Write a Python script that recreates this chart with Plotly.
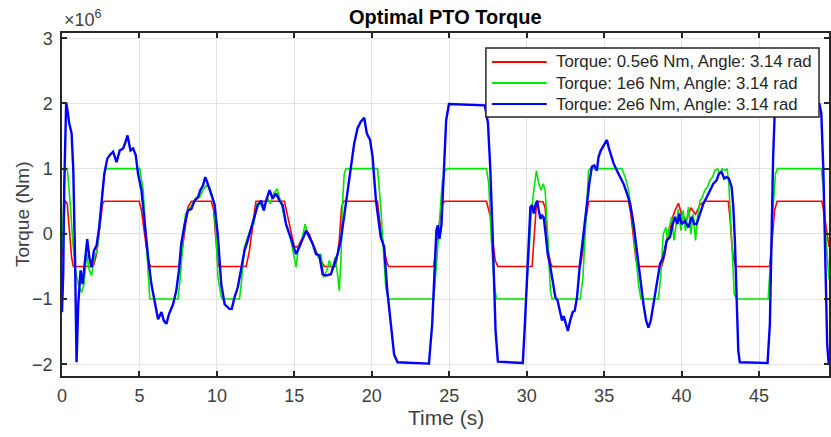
import plotly.graph_objects as go

# Simulated PTO torque (units of 1e6 Nm) for three torque limits
t_red = [0, 0.1, 0.19, 0.34, 0.47, 0.62, 0.73, 2.02, 2.23, 2.45, 2.62, 2.73, 4.98, 5.13, 5.34, 5.56, 5.71,
         7.55, 7.7, 7.92, 8.13, 8.35, 9.64, 9.79, 9.92, 10.06, 10.15, 11.89, 12.1, 12.31, 12.52, 14.36,
         14.57, 14.79, 15.0, 15.22, 15.43, 15.76, 15.97, 16.18, 16.5, 16.72, 16.93, 17.68, 17.9, 18.05,
         18.18, 20.37, 20.58, 20.8, 21.0, 21.1, 24.0, 24.21, 24.37, 24.54, 24.71, 27.4, 27.66, 27.8,
         27.97, 28.14, 30.35, 30.46, 30.63, 30.78, 31.06, 31.19, 31.32, 31.42, 31.57, 31.65, 33.46,
         33.63, 33.78, 33.99, 34.1, 36.57, 36.72, 36.89, 37.06, 37.22, 38.72, 38.93, 39.08, 39.25,
         39.43, 39.58, 39.73, 39.8, 40.0, 40.3, 40.6, 40.9, 41.2, 41.5, 43.01, 43.12, 43.23, 43.34,
         43.49, 45.68, 45.85, 46.0, 46.17, 49.06, 49.24, 49.41, 49.52]
y_red = [-0.36, 0.1, 0.51, 0.46, 0.05, -0.36, -0.5, -0.5, -0.31, 0.1, 0.46, 0.5, 0.5, 0.36, -0.05, -0.41, -0.5,
         -0.5, -0.36, 0.05, 0.41, 0.5, 0.5, 0.36, -0.1, -0.45, -0.5, -0.5, -0.26, 0.15, 0.5, 0.5,
         0.26, 0.05, -0.2, -0.2, -0.1, 0.05, 0.0, -0.15, -0.31, -0.41, -0.5, -0.5, -0.1, 0.41,
         0.5, 0.5, 0.05, -0.26, -0.46, -0.5, -0.5, -0.1, 0.15, 0.46, 0.5, 0.5, 0.26, -0.1,
         -0.41, -0.5, -0.5, -0.05, 0.46, 0.5, 0.49, 0.4, 0.05, -0.31, -0.47, -0.5, -0.5,
         -0.26, 0.15, 0.49, 0.5, 0.5, 0.31, -0.05, -0.41, -0.5, -0.5, -0.31, -0.05, 0.05,
         0.26, 0.36, 0.44, 0.47, 0.3, 0.2, 0.4, 0.3, 0.45, 0.5, 0.5, 0.26, -0.1, -0.36,
         -0.5, -0.5, -0.1, 0.36, 0.5, 0.5, 0.26, -0.05, -0.2]

t_green = [0, 0.1, 0.19, 0.34, 0.52, 0.69, 0.84, 1.05, 1.27, 1.42, 1.59, 1.76, 1.91, 2.08, 2.27, 2.45, 2.62,
           2.77, 2.88, 5.02, 5.24, 5.41, 5.56, 5.67, 7.49, 7.64, 7.81, 7.98, 8.2, 8.41, 8.67, 8.88, 9.1,
           9.31, 9.53, 9.79, 9.96, 10.07, 10.28, 10.35, 11.46, 11.57, 11.78, 11.99, 12.21, 12.38, 12.59,
           12.8, 13.03, 13.24, 13.46, 13.67, 13.89, 14.1, 14.36, 14.57, 14.74, 14.96, 15.11, 15.26,
           15.48, 15.69, 15.86, 16.08, 16.29, 16.55, 16.72, 16.89, 17.1, 17.25, 17.47, 17.62, 17.79,
           17.9, 18.0, 18.1, 18.22, 18.33, 20.37, 20.58, 20.73, 20.9, 21.08, 24.0, 24.21, 24.37, 24.54,
           24.71, 24.86, 27.4, 27.55, 27.72, 27.9, 28.05, 29.95, 30.13, 30.28, 30.46, 30.63, 30.78,
           30.93, 31.06, 31.19, 31.32, 31.42, 31.53, 31.64, 33.46, 33.63, 33.78, 33.89, 33.99, 34.1,
           36.14, 36.36, 36.57, 36.79, 37.0, 37.22, 37.37, 38.5, 38.65, 38.82, 38.99, 39.1, 39.2,
           39.36, 39.51, 39.64, 39.79, 39.96, 40.1, 40.25, 40.44, 40.6, 40.75, 40.9, 41.03, 41.19,
           41.33, 41.5, 41.68, 41.83, 42.0, 42.15, 42.32, 42.47, 42.62, 42.79, 42.94, 43.05, 43.18,
           43.29, 43.4, 43.55, 45.59, 45.76, 45.91, 46.06, 46.19, 49.02, 49.17, 49.3, 49.45, 49.52]
y_green = [-0.26, 0.4, 1.0, 1.0, 0.51, -0.1, -0.51, -0.77, -0.9, -0.77, -0.31, -0.56, -0.64, -0.36, -0.26, 0.15, 0.67,
           0.97, 1.0, 1.0, 0.67, 0.0, -0.67, -1.0, -1.0, -0.67, -0.1, 0.31, 0.38, 0.46, 0.56, 0.56, 0.67,
           0.74, 0.72, 0.51, -0.1, -0.67, -0.97, -1.0, -1.0, -0.77, -0.2, -0.05, 0.1, 0.15, 0.46,
           0.46, 0.36, 0.56, 0.46, 0.62, 0.69, 0.51, 0.26, 0.05, -0.05, -0.31, -0.51, -0.2,
           -0.1, 0.15, 0.0, -0.1, -0.2, -0.36, -0.31, -0.67, -0.56, -0.41, -0.56, -0.36, -0.62,
           -0.87, -0.46, 0.41, 0.92, 1.0, 1.0, 0.41, -0.26, -0.82, -1.0, -1.0, -0.36, 0.15, 0.77,
           0.97, 1.0, 1.0, 0.77, -0.1, -0.77, -1.0, -1.0, -0.36, 0.26, 0.67, 0.97, 0.77,
           0.67, 0.77, 0.67, 0.15, -0.46, -0.87, -1.0, -1.0, -0.67, 0.05, 0.51, 0.97, 1.0,
           1.0, 0.87, 0.67, 0.31, -0.26, -0.77, -1.0, -1.0, -0.67, 0.0, 0.1, -0.1, 0.1,
           0.26, -0.1, 0.15, 0.38, 0.05, 0.36, 0.05, 0.41, 0.0, 0.31, -0.1, 0.26, 0.51,
           0.56, 0.67, 0.72, 0.82, 0.87, 0.97, 1.0, 0.92, 1.0, 0.97, 1.0, 0.77, 0.15,
           -0.46, -0.92, -1.0, -1.0, -0.36, 0.41, 0.92, 1.0, 1.0, 0.67, 0.0, -0.51, -0.7]

t_blue = [0, 0.08, 0.15, 0.22, 0.27, 0.35, 0.47, 0.62, 0.73, 0.84, 0.94, 1.05, 1.2, 1.33, 1.48, 1.63, 1.76,
          1.91, 2.06, 2.23, 2.4, 2.55, 2.73, 2.92, 3.09, 3.3, 3.52, 3.73, 3.95, 4.1, 4.23, 4.42, 4.59,
          4.76, 4.91, 5.13, 5.34, 5.56, 5.77, 5.99, 6.2, 6.42, 6.57, 6.74, 6.91, 7.17, 7.38, 7.55, 7.7,
          7.92, 8.13, 8.35, 8.56, 8.78, 8.93, 9.1, 9.25, 9.38, 9.53, 9.74, 9.85, 10.07, 10.28, 10.5,
          10.8, 10.96, 11.14, 11.35, 11.57, 11.78, 11.99, 12.21, 12.42, 12.64, 12.86, 13.03, 13.18,
          13.4, 13.6, 13.82, 14.04, 14.25, 14.46, 14.68, 14.9, 15.11, 15.33, 15.54, 15.76, 15.97,
          16.18, 16.4, 16.61, 16.83, 17.04, 17.36, 17.58, 17.79, 18.0, 18.22, 18.43, 18.65, 18.86,
          19.08, 19.29, 19.51, 19.68, 19.89, 20.05, 20.27, 20.58, 20.8, 21.0, 21.23, 21.44, 21.66,
          23.69, 23.9, 24.04, 24.17, 24.26, 24.37, 24.5, 24.65, 24.8, 24.98, 27.3, 27.5, 27.65,
          27.8, 27.99, 28.14, 29.75, 29.87, 30.03, 30.13, 30.24, 30.35, 30.46, 30.56, 30.67, 30.78,
          30.89, 31.0, 31.1, 31.2, 31.36, 31.53, 31.7, 31.85, 32.0, 32.17, 32.28, 32.39, 32.54,
          32.66, 32.81, 32.97, 33.1, 33.25, 33.42, 33.57, 33.72, 33.89, 34.04, 34.21, 34.36, 34.53,
          34.64, 34.79, 34.92, 35.07, 35.18, 35.31, 35.44, 35.61, 35.82, 36.04, 36.25, 36.47, 36.68,
          36.9, 37.11, 37.33, 37.54, 37.71, 37.86, 38.01, 38.18, 38.39, 38.61, 38.82, 39.04, 39.25,
          39.43, 39.58, 39.73, 39.86, 40.0, 40.22, 40.44, 40.65, 40.82, 40.97, 41.19, 41.4, 41.62,
          41.83, 42.05, 42.26, 42.41, 42.58, 42.75, 42.9, 43.05, 43.23, 43.34, 43.44, 43.55, 43.66,
          43.76, 45.55, 45.7, 45.8, 45.91, 46.02, 46.12, 48.9, 49.02, 49.15, 49.28, 49.4, 49.5]
y_blue = [-1.2, -0.6, 0.8, 1.8, 2.01, 1.9, 1.69, 1.54, 0.97, -0.36, -1.97, -1.08, -0.56, -0.77, -0.46, -0.08, -0.36,
          -0.51, -0.26, -0.18, 0.1, 0.51, 0.92, 1.15, 1.21, 1.26, 1.1, 1.28, 1.31, 1.41, 1.51, 1.28, 1.31,
          1.21, 0.92, 0.67, 0.15, -0.36, -0.77, -1.03, -1.31, -1.2, -1.33, -1.38, -1.23, -1.08, -0.87, -0.56, -0.15,
          0.15, 0.36, 0.38, 0.51, 0.56, 0.67, 0.74, 0.87, 0.79, 0.67, 0.51, 0.45, -0.05, -0.77, -1.08,
          -1.15, -1.15, -0.97, -0.82, -0.51, -0.26, -0.1, 0.1, 0.26, 0.44, 0.51, 0.36, 0.51,
          0.67, 0.54, 0.62, 0.51, 0.44, 0.15, 0.0, -0.15, -0.31, -0.2, -0.08, 0.05, -0.05,
          -0.15, -0.31, -0.33, -0.62, -0.64, -0.62, -0.46, -0.31, -0.1, 0.26, 0.67, 1.03, 1.38,
          1.62, 1.72, 1.78, 1.54, 1.44, 1.18, 0.51, -0.05, -0.2, -0.87, -1.38, -1.85, -1.97,
          -1.99, -1.38, -0.67, 0.05, 0.13, -0.08, 0.15, 0.92, 1.74, 1.99, 1.97, 1.7, 1.0,
          0.0, -1.48, -1.96, -1.98, -1.45, -0.62, 0.05, 0.41, 0.44, 0.31, 0.44, 0.51, 0.36,
          0.23, 0.28, 0.25, 0.05, -0.31, -0.51, -0.77, -0.97, -1.03, -1.2, -1.33, -1.26, -1.38,
          -1.49, -1.33, -1.2, -1.18, -0.97, -0.51, -0.2, 0.15, 0.46, 0.77, 1.03, 1.05, 0.97,
          1.18, 1.28, 1.33, 1.38, 1.44, 1.31, 1.21, 1.08, 0.97, 0.87, 0.77, 0.62, 0.46,
          0.15, -0.26, -0.67, -1.08, -1.33, -1.44, -1.33, -1.08, -0.72, -0.46, -0.36, -0.1, -0.05,
          0.15, 0.26, 0.15, 0.31, 0.15, 0.2, 0.1, 0.26, 0.15, 0.15, 0.31, 0.46, 0.56,
          0.67, 0.77, 0.82, 0.92, 0.95, 0.85, 0.87, 0.85, 0.72, 0.41, -0.1, -0.97, -1.79,
          -1.97, -1.98, -1.38, -0.1, 1.18, 1.9, 1.99, 1.99, 1.85, 1.0, -0.5, -1.7, -2.0]

series_names = ["Torque: 0.5e6 Nm, Angle: 3.14 rad",
                "Torque: 1e6 Nm, Angle: 3.14 rad",
                "Torque: 2e6 Nm, Angle: 3.14 rad"]
series_colors = ["#ff0000", "#00e600", "#0000ff"]
series_widths = [1.6, 1.6, 2.4]

x_ticks = [0, 5, 10, 15, 20, 25, 30, 35, 40, 45]
y_ticks = [-2, -1, 0, 1, 2, 3]

W, H = 831, 437
L, R, T, B = 62, 0, 33, 61
PW, PH = W - L - R, H - T - B
FONT = "Liberation Sans, Arial, sans-serif"


def px_x(px):
    return (px - L) / PW


def px_y(py):
    return (H - B - py) / PH


fig = go.Figure()
for t, y, name, col, w in zip([t_red, t_green, t_blue], [y_red, y_green, y_blue],
                              series_names, series_colors, series_widths):
    fig.add_trace(go.Scatter(x=t, y=y, mode="lines", name=name,
                             line=dict(color=col, width=w), showlegend=False))

axis_font = dict(family=FONT, size=18, color="#404040")
common = dict(showline=True, linecolor="#262626", linewidth=1.5, mirror="ticks",
              ticks="inside", ticklen=5, tickwidth=1.5, tickcolor="#262626",
              showgrid=True, gridcolor="#e2e2e2", gridwidth=1, zeroline=False,
              tickfont=axis_font)

fig.update_layout(
    width=W, height=H, autosize=False,
    margin=dict(l=L, r=R, t=T, b=B),
    paper_bgcolor="white", plot_bgcolor="white",
    xaxis=dict(range=[0, PW / 15.53], tickvals=x_ticks, ticklabelstandoff=3, **common),
    yaxis=dict(range=[-2.18, 3.08], tickvals=y_ticks, ticklabelstandoff=4, **common),
)

# Legend box drawn in paper coordinates
shapes = [dict(type="rect", xref="paper", yref="paper",
               x0=px_x(487), x1=px_x(821), y0=px_y(117), y1=px_y(48),
               fillcolor="white", line=dict(color="#262626", width=1.5), layer="above")]
annotations = []
for i, (name, col) in enumerate(zip(series_names, series_colors)):
    ry = px_y(62 + 21 * i)
    shapes.append(dict(type="line", xref="paper", yref="paper",
                       x0=px_x(493), x1=px_x(548), y0=ry, y1=ry,
                       line=dict(color=col, width=2), layer="above"))
    annotations.append(dict(text=name, xref="paper", yref="paper", x=px_x(555), y=ry,
                            xanchor="left", yanchor="middle", showarrow=False,
                            font=dict(family=FONT, size=16.8, color="#262626")))

annotations += [
    dict(text="<b>Optimal PTO Torque</b>", xref="paper", yref="paper", x=0.5, y=px_y(17),
         xanchor="center", yanchor="middle", showarrow=False,
         font=dict(family=FONT, size=20, color="#000000")),
    dict(text="Time (s)", xref="paper", yref="paper", x=0.5, y=px_y(417),
         xanchor="center", yanchor="middle", showarrow=False,
         font=dict(family=FONT, size=21, color="#404040")),
    dict(text="Torque (Nm)", xref="paper", yref="paper", x=px_x(22), y=px_y(214),
         xanchor="center", yanchor="middle", showarrow=False, textangle=-90,
         font=dict(family=FONT, size=19, color="#404040")),
    dict(text="×10<sup>6</sup>", xref="paper", yref="paper", x=px_x(62), y=px_y(19),
         xanchor="left", yanchor="middle", showarrow=False,
         font=dict(family=FONT, size=18, color="#404040")),
]
fig.update_layout(shapes=shapes, annotations=annotations)

fig.write_html("out.html")
